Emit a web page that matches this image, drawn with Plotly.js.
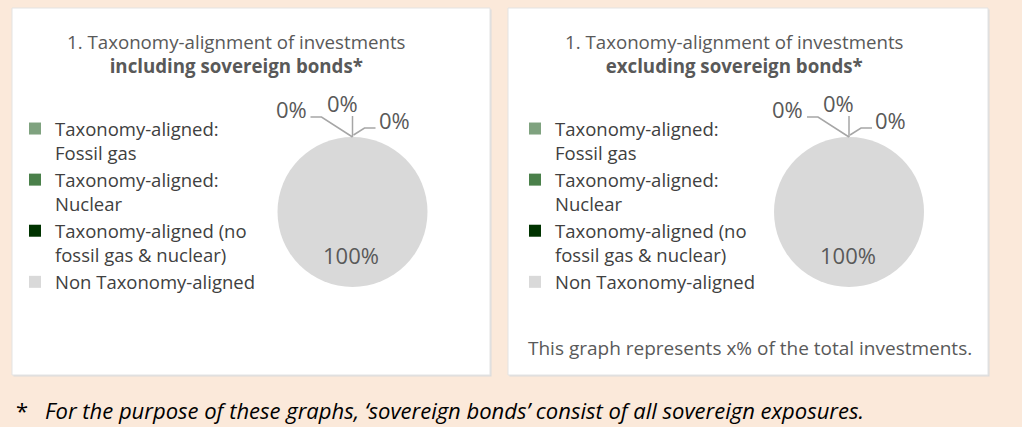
<!DOCTYPE html>
<html>
<head>
<meta charset="utf-8">
<script src="https://cdn.plot.ly/plotly-3.0.1.min.js"></script>
<style>
  html, body { margin: 0; padding: 0; background: #FBE9DA; }
  #chart { width: 1022px; height: 427px; }
</style>
</head>
<body>
<div id="chart"></div>
<script>
// ---- data ----
const categories = [
  'Taxonomy-aligned:<br>Fossil gas',
  'Taxonomy-aligned:<br>Nuclear',
  'Taxonomy-aligned (no<br>fossil gas & nuclear)',
  'Non Taxonomy-aligned'
];
const valuesIncluding = [0, 0, 0, 100];
const valuesExcluding = [0, 0, 0, 100];
const sliceColors = ['#7FA27F', '#4A804A', '#003300', '#D9D9D9'];
const titleLine1 = '1. Taxonomy-alignment of investments';
const titleIncluding = 'including sovereign bonds*';
const titleExcluding = 'excluding sovereign bonds*';
const panelNote = 'This graph represents x% of the total investments.';
const footnote = 'For the purpose of these graphs, \u2018sovereign bonds\u2019 consist of all sovereign exposures.';

// ---- helpers ----
const W = 1022, H = 427;
const px = x => x / W;
const py = y => 1 - y / H;
const pct = (vals, i) => {
  const tot = vals.reduce((a, b) => a + b, 0);
  return Math.round(vals[i] / tot * 100) + '%';
};
const FONT = 'Open Sans, Liberation Sans, sans-serif';

const panels = [
  { x0: 12, x1: 490, y0: 8, y1: 375, cx: 352.5, cy: 212, r: 75, titleX: 236, vals: valuesIncluding, sub: titleIncluding, legend: 'legend', group: 'incl' },
  { x0: 508, x1: 988, y0: 8, y1: 375, cx: 849, cy: 212, r: 75, titleX: 734, vals: valuesExcluding, sub: titleExcluding, legend: 'legend2', group: 'excl' }
];

const traces = [];
const shapes = [];
const annotations = [];

panels.forEach((p, k) => {
  // panel box
  shapes.push({ type: 'rect', xref: 'paper', yref: 'paper', layer: 'below',
    x0: px(p.x0 + 1.5), x1: px(p.x1 + 1.5), y0: py(p.y0 + 1.5), y1: py(p.y1 + 1.5),
    fillcolor: '#DCDCDC', line: { width: 0 } });
  shapes.push({ type: 'rect', xref: 'paper', yref: 'paper', layer: 'below',
    x0: px(p.x0), x1: px(p.x1), y0: py(p.y0), y1: py(p.y1),
    fillcolor: '#FFFFFF', line: { color: '#E3E3E3', width: 1 } });

  traces.push({
    type: 'pie',
    name: p.group,
    labels: categories,
    values: p.vals,
    sort: false,
    direction: 'clockwise',
    rotation: 0,
    textinfo: 'none',
    hoverinfo: 'label+percent',
    marker: { colors: sliceColors, line: { width: 0 } },
    domain: { x: [px(p.cx - p.r), px(p.cx + p.r)], y: [py(p.cy + p.r), py(p.cy - p.r)] },
    legend: p.legend,
    legendgroup: p.group,
    showlegend: true
  });

  // title
  annotations.push({ xref: 'paper', yref: 'paper', x: px(p.titleX), y: py(53.5),
    xanchor: 'center', yanchor: 'middle', showarrow: false, align: 'center',
    text: titleLine1 + '<br><b>' + p.sub + '</b>',
    font: { family: FONT, size: 18.7, color: '#595959' } });

  // data labels
  const topX = p.cx, topY = p.cy - p.r;
  const lab = [
    { i: 0, x: topX - 61.5, y: 109 },
    { i: 1, x: topX - 10.5, y: 103 },
    { i: 2, x: topX + 41.5, y: 120 },
    { i: 3, x: topX - 1.5, y: 255 }
  ];
  lab.forEach(l => {
    annotations.push({ xref: 'paper', yref: 'paper', x: px(l.x), y: py(l.y),
      xanchor: 'center', yanchor: 'middle', showarrow: false,
      text: pct(p.vals, l.i),
      font: { family: FONT, size: 22, color: '#595959' } });
  });

  // leader lines
  const ln = { color: '#A6A6A6', width: 1.5 };
  const path = pts => 'M' + pts.map(q => px(q[0]) + ',' + py(q[1])).join(' L');
  shapes.push({ type: 'path', xref: 'paper', yref: 'paper', layer: 'above', line: ln,
    path: path([[topX, topY], [topX - 31, 117], [topX - 42, 117]]) });
  shapes.push({ type: 'path', xref: 'paper', yref: 'paper', layer: 'above', line: ln,
    path: path([[topX, topY], [topX, 116]]) });
  shapes.push({ type: 'path', xref: 'paper', yref: 'paper', layer: 'above', line: ln,
    path: path([[topX + 1, topY - 2], [topX + 12, 128], [topX + 23, 128]]) });
});

annotations.push({ xref: 'paper', yref: 'paper', x: px(750), y: py(348),
  xanchor: 'center', yanchor: 'middle', showarrow: false, text: panelNote,
  font: { family: FONT, size: 19, color: '#595959' } });

annotations.push({ xref: 'paper', yref: 'paper', x: px(22), y: 0,
  xanchor: 'center', yanchor: 'bottom', showarrow: false, text: '*',
  font: { family: FONT, size: 22, color: '#000000' } });
annotations.push({ xref: 'paper', yref: 'paper', x: px(43), y: 0,
  xanchor: 'left', yanchor: 'bottom', showarrow: false, text: '<i>' + footnote + '</i>',
  font: { family: FONT, size: 22, color: '#000000' } });

const legendStyle = {
  yanchor: 'top', xanchor: 'left', bgcolor: 'rgba(0,0,0,0)',
  font: { family: FONT, size: 18.5, color: '#404040' },
  valign: 'top',
  itemclick: false, itemdoubleclick: false, traceorder: 'normal'
};

const layout = {
  width: W, height: H,
  margin: { l: 0, r: 0, t: 0, b: 0 },
  paper_bgcolor: '#FBE9DA',
  plot_bgcolor: 'rgba(0,0,0,0)',
  showlegend: true,
  legend: Object.assign({}, legendStyle, { x: px(15), y: py(110) }),
  legend2: Object.assign({}, legendStyle, { x: px(515), y: py(110) }),
  shapes: shapes,
  annotations: annotations
};

Plotly.newPlot('chart', traces, layout, { displayModeBar: false, staticPlot: true });
</script>
</body>
</html>
